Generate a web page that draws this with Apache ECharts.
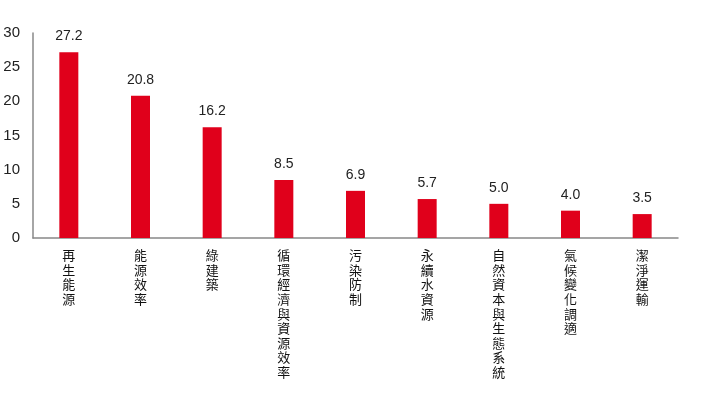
<!DOCTYPE html>
<html>
<head>
<meta charset="utf-8">
<script src="https://cdn.jsdelivr.net/npm/echarts@6/dist/echarts.min.js"></script>
<style>
html, body { margin: 0; padding: 0; background: #fff; }
#main { width: 702px; height: 397px; }
</style>
</head>
<body>
<div id="main"></div>
<script>
// 類別與數值
var categories = ['再生能源', '能源效率', '綠建築', '循環經濟與資源效率', '污染防制', '永續水資源', '自然資本與生態系統', '氣候變化調適', '潔淨運輸'];
var values = [27.2, 20.8, 16.2, 8.5, 6.9, 5.7, 5.0, 4.0, 3.5];
var yTicks = [0, 5, 10, 15, 20, 25, 30];

var chart = echarts.init(document.getElementById('main'));

var option = {
    animation: false,
    grid: {
        left: 33,
        right: 24,
        top: 33,
        bottom: 159
    },
    xAxis: {
        type: 'category',
        data: categories,
        axisLine: { lineStyle: { color: '#888', width: 1.5 } },
        axisTick: { show: false },
        axisLabel: {
            interval: 0,
            margin: 10,
            color: '#111',
            fontSize: 13,
            lineHeight: 14.6,
            fontFamily: 'Noto Sans CJK TC',
            verticalAlign: 'top',
            formatter: function (v) { return v.split('').join('\n'); }
        }
    },
    yAxis: {
        type: 'value',
        min: yTicks[0],
        max: yTicks[yTicks.length - 1],
        interval: 5,
        splitLine: { show: false },
        axisLine: { show: true, lineStyle: { color: '#888', width: 1.5 } },
        axisTick: { show: false },
        axisLabel: {
            color: '#222',
            fontSize: 15,
            margin: 13,
            fontFamily: 'Liberation Sans'
        }
    },
    series: [
        {
            type: 'bar',
            data: values,
            barWidth: 19,
            itemStyle: { color: '#e0001b' },
            label: {
                show: true,
                position: 'top',
                distance: 9,
                color: '#222',
                fontSize: 14,
                fontFamily: 'Liberation Sans',
                formatter: function (p) { return p.value.toFixed(1); }
            }
        }
    ]
};

chart.setOption(option);
</script>
</body>
</html>
